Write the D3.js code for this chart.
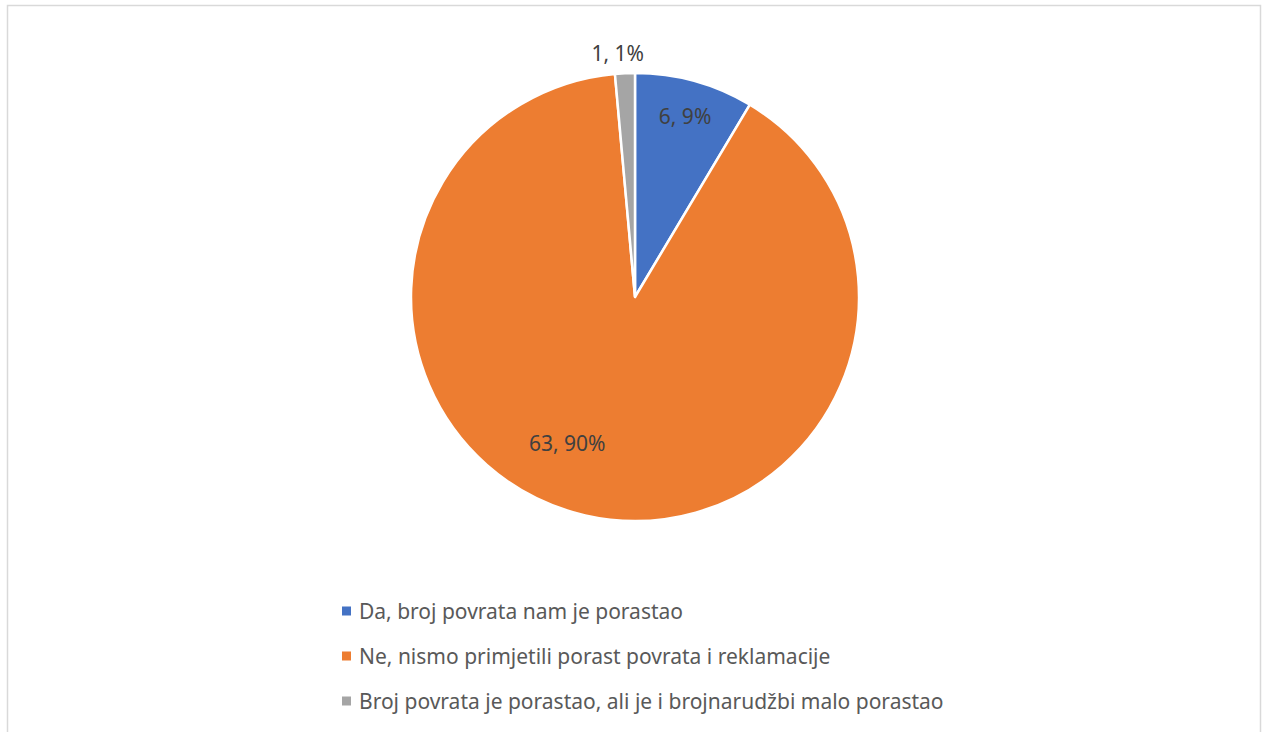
<!DOCTYPE html>
<html><head><meta charset="utf-8">
<script src="https://cdn.jsdelivr.net/npm/d3@7"></script>
<style>body{margin:0;background:#fff;}svg{display:block;}</style>
</head><body>
<svg id="c" width="1262" height="732"></svg>
<script>
const categories = ["Da, broj povrata nam je porastao","Ne, nismo primjetili porast povrata i reklamacije","Broj povrata je porastao, ali je i brojnarudžbi malo porastao"];
const values = [6, 63, 1];
const percentLabels = ["9%", "90%", "1%"];
const colors = ["#4472c4", "#ed7d31", "#a5a5a5"];

const svg = d3.select("#c");
svg.append("rect").attr("x",7.5).attr("y",5.5).attr("width",1253).attr("height",740)
  .attr("fill","#fff").attr("stroke","#d9d9d9").attr("stroke-width",1.5);

const cx = 635, cy = 297, R = 224;
const g = svg.append("g").attr("transform",`translate(${cx},${cy})`);
const pie = d3.pie().sort(null).value(d=>d);
const arcs = pie(values);
const arc = d3.arc().innerRadius(0).outerRadius(R);
g.selectAll("path").data(arcs).enter().append("path")
  .attr("d",arc).attr("fill",(d,i)=>colors[i]).attr("stroke","#fff").attr("stroke-width",2.5).attr("stroke-linejoin","round");

const font = "'Noto Sans', 'Open Sans', sans-serif";
// label placement: radius fraction and angular offset (deg) from slice mid
const labelPos = [{r:0.84, da:0}, {r:0.72, da:12}, {r:1.09, da:-1.5}];
arcs.forEach((d,i)=>{
  const mid = (d.startAngle+d.endAngle)/2 + labelPos[i].da*Math.PI/180;
  const r = R*labelPos[i].r;
  g.append("text").attr("x",Math.sin(mid)*r).attr("y",-Math.cos(mid)*r)
   .attr("text-anchor","middle").attr("dominant-baseline","central")
   .attr("font-family",font).attr("font-size",21)
   .attr("fill","#404040").text(`${values[i]}, ${percentLabels[i]}`);
});

const leg = svg.append("g");
const ly = d3.scalePoint().domain(categories).range([611, 701]);
categories.forEach((c,i)=>{
  leg.append("rect").attr("x",342).attr("y",ly(c)-4.5).attr("width",9).attr("height",9).attr("fill",colors[i]);
  leg.append("text").attr("x",359).attr("y",ly(c)).attr("dominant-baseline","central")
   .attr("font-family",font).attr("font-size",21)
   .attr("fill","#595959").text(c);
});
</script>
</body></html>
